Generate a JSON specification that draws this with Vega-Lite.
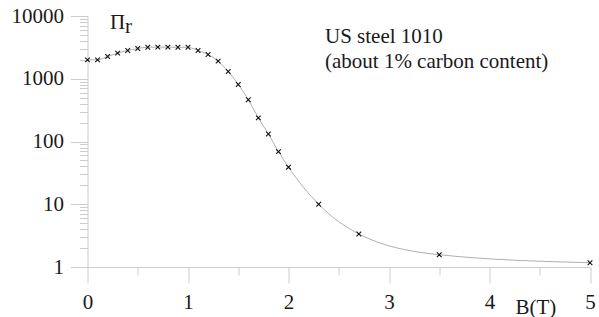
{
  "$schema": "https://vega.github.io/schema/vega-lite/v6.json",
  "autosize": "none",
  "width": 502.5,
  "height": 251,
  "padding": {"left": 87.5, "top": 16, "right": 9, "bottom": 50},
  "background": "white",
  "config": {
    "view": {"stroke": null},
    "axis": {
      "grid": false,
      "domainColor": "#cccccc",
      "tickColor": "#cccccc",
      "domainWidth": 1,
      "tickWidth": 1,
      "labelFont": "Liberation Serif",
      "labelFontSize": 21,
      "labelColor": "#1a1a1a",
      "titleFont": "Liberation Serif",
      "titleFontSize": 21,
      "titleFontWeight": "normal",
      "titleColor": "#1a1a1a"
    }
  },
  "datasets": {
    "pts": [
      {"B": 0.0, "P": 2000},
      {"B": 0.1, "P": 2000},
      {"B": 0.2, "P": 2260},
      {"B": 0.3, "P": 2560},
      {"B": 0.4, "P": 2820},
      {"B": 0.5, "P": 3030},
      {"B": 0.6, "P": 3180},
      {"B": 0.7, "P": 3190},
      {"B": 0.8, "P": 3190},
      {"B": 0.9, "P": 3180},
      {"B": 1.0, "P": 3170},
      {"B": 1.1, "P": 2820},
      {"B": 1.2, "P": 2430},
      {"B": 1.3, "P": 1910},
      {"B": 1.4, "P": 1305},
      {"B": 1.5, "P": 812},
      {"B": 1.6, "P": 464},
      {"B": 1.7, "P": 238},
      {"B": 1.8, "P": 132},
      {"B": 1.9, "P": 69},
      {"B": 2.0, "P": 39},
      {"B": 2.3, "P": 10},
      {"B": 2.7, "P": 3.36},
      {"B": 3.5, "P": 1.57},
      {"B": 5.0, "P": 1.17}
    ],
    "labels": [
      {"B": 0.224, "P": 6200, "text": "Π"},
      {"B": 0.373, "P": 5360, "text": "r"},
      {"B": 2.363, "P": 3715, "text": "US steel 1010"},
      {"B": 2.363, "P": 1483, "text": "(about 1% carbon content)"}
    ]
  },
  "layer": [
    {
      "data": {"name": "pts"},
      "mark": {"type": "line", "interpolate": "monotone", "stroke": "#9a9a9a", "strokeWidth": 0.8, "clip": false},
      "encoding": {
        "x": {"field": "B", "type": "quantitative", "scale": {"domain": [0, 5], "nice": false, "zero": false},
          "axis": {"values": [0, 1, 2, 3, 4, 5], "tickSize": 16, "labelPadding": 8, "format": "d",
            "title": "B(T)", "titleX": 427.5, "titleY": 46, "titleAlign": "left", "titleBaseline": "alphabetic", "titleAnchor": "start", "labelFlush": false}},
        "y": {"field": "P", "type": "quantitative", "scale": {"type": "log", "domain": [1, 10000], "nice": false},
          "axis": {"values": [1, 10, 100, 1000, 10000], "tickSize": 17, "labelPadding": 7, "format": "d", "title": null, "labelFlush": false}}
      }
    },
    {
      "data": {"name": "pts"},
      "mark": {"type": "point", "shape": "M-1,-1L1,1M1,-1L-1,1", "filled": false, "stroke": "#111111", "strokeWidth": 1.1, "size": 22, "opacity": 1, "clip": false},
      "encoding": {
        "x": {"field": "B", "type": "quantitative",
          "axis": {"orient": "bottom", "values": [0.5, 1.5, 2.5, 3.5, 4.5], "tickSize": 8, "labels": false, "domain": false, "title": null}},
        "y": {"field": "P", "type": "quantitative",
          "axis": {"orient": "left", "values": [2,3,4,5,6,7,8,9,20,30,40,50,60,70,80,90,200,300,400,500,600,700,800,900,2000,3000,4000,5000,6000,7000,8000,9000], "tickSize": 8, "labels": false, "domain": false, "title": null}}
      }
    },
    {
      "data": {"name": "labels"},
      "mark": {"type": "text", "align": "left", "baseline": "alphabetic", "font": "Liberation Serif", "fontSize": 21, "color": "#1a1a1a", "clip": false},
      "encoding": {
        "x": {"field": "B", "type": "quantitative", "axis": null},
        "y": {"field": "P", "type": "quantitative", "axis": null},
        "text": {"field": "text"}
      }
    }
  ],
  "resolve": {"axis": {"x": "independent", "y": "independent"}}
}
